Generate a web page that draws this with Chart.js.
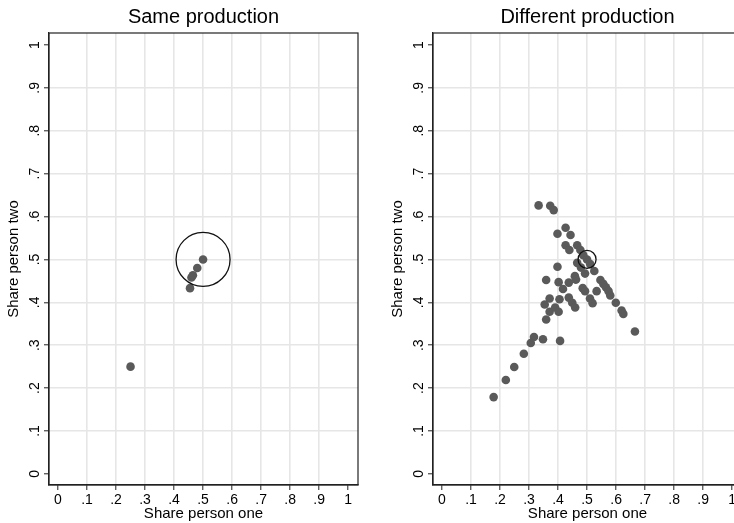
<!DOCTYPE html>
<html>
<head>
<meta charset="utf-8">
<script src="https://cdn.jsdelivr.net/npm/chart.js@4.4.1/dist/chart.umd.min.js"></script>
<style>
  html, body { margin: 0; padding: 0; background: #fff; overflow: hidden; }
  .panel { position: absolute; top: 0; width: 367px; height: 523px; }
  #panelSame { left: 0; }
  #panelDiff { left: 384px; }
</style>
</head>
<body>
<div class="panel" id="panelSame"><canvas id="chartSame"></canvas></div>
<div class="panel" id="panelDiff"><canvas id="chartDiff"></canvas></div>
<script>
/* share plots: same vs different production */

var tickValues = [0, 0.1, 0.2, 0.3, 0.4, 0.5, 0.6, 0.7, 0.8, 0.9, 1];
var tickLabels = ["0", ".1", ".2", ".3", ".4", ".5", ".6", ".7", ".8", ".9", "1"];

var sameX = [0.25, 0.455, 0.46, 0.465, 0.48, 0.5];
var sameY = [0.25, 0.433, 0.458, 0.463, 0.48, 0.5];

var diffX = [0.333, 0.373, 0.385, 0.426, 0.443, 0.398, 0.426, 0.439, 0.466, 0.477,
  0.487, 0.5, 0.511, 0.525, 0.546, 0.556, 0.565, 0.574, 0.58, 0.599,
  0.619, 0.625, 0.665, 0.398, 0.359, 0.402, 0.417, 0.437, 0.458, 0.462,
  0.466, 0.479, 0.493, 0.485, 0.493, 0.533, 0.51, 0.519, 0.371, 0.354,
  0.371, 0.359, 0.39, 0.402, 0.405, 0.437, 0.449, 0.459, 0.407, 0.348,
  0.317, 0.306, 0.282, 0.249, 0.22, 0.178];
var diffY = [0.626, 0.625, 0.615, 0.574, 0.557, 0.56, 0.533, 0.522, 0.533, 0.522,
  0.51, 0.5, 0.489, 0.473, 0.452, 0.443, 0.435, 0.426, 0.416, 0.399,
  0.381, 0.373, 0.332, 0.483, 0.452, 0.447, 0.431, 0.446, 0.461, 0.453,
  0.492, 0.481, 0.467, 0.433, 0.426, 0.426, 0.409, 0.398, 0.409, 0.395,
  0.378, 0.36, 0.388, 0.378, 0.407, 0.411, 0.399, 0.388, 0.31, 0.314,
  0.319, 0.305, 0.28, 0.249, 0.219, 0.179];

var circleX = [0.5];
var circleY = [0.5];

(function () {
  "use strict";

  var FONT = "'Liberation Sans', Arial, sans-serif";
  var ink = "#222";
  var markerColor = "#5a5a5a";

  function toPoints(xs, ys) {
    return xs.map(function (x, i) {
      return { x: x, y: ys[i] };
    });
  }

  function gridColor(ctx) {
    var v = ctx.tick ? ctx.tick.value : null;
    if (v === 0 || v === 1) return "rgba(0,0,0,0)";
    return "#e6e6e6";
  }

  function setTicks(scale) {
    scale.ticks = tickValues.map(function (v) {
      return { value: v };
    });
  }

  // plot region outline (Stata style box)
  var frame = {
    id: "frame",
    afterDraw: function (chart) {
      var a = chart.chartArea;
      var c = chart.ctx;
      c.save();
      c.strokeStyle = ink;
      c.lineWidth = 1.2;
      c.strokeRect(a.left, a.top, a.right - a.left, a.bottom - a.top);
      c.restore();
    },
  };

  function makeChart(id, title, xs, ys, ringRadius) {
    var el = document.getElementById(id);
    if (!el || typeof Chart === "undefined") return;

    new Chart(el, {
      type: "scatter",
      data: {
        datasets: [
          {
            data: toPoints(circleX, circleY),
            pointRadius: ringRadius,
            pointBackgroundColor: "rgba(0,0,0,0)",
            pointBorderColor: "#111",
            pointBorderWidth: 1.3,
            order: 0,
          },
          {
            data: toPoints(xs, ys),
            pointRadius: 4.3,
            pointBackgroundColor: markerColor,
            pointBorderColor: markerColor,
            pointBorderWidth: 0,
            order: 1,
          },
        ],
      },
      options: {
        responsive: true,
        maintainAspectRatio: false,
        animation: false,
        layout: { padding: { left: 0, right: 9, top: 0, bottom: 0 }, autoPadding: false },
        plugins: {
          legend: { display: false },
          tooltip: { enabled: false },
          title: {
            display: true,
            fullSize: false,
            text: title,
            color: "#000",
            font: { family: FONT, size: 20, weight: "normal" },
            padding: { top: 5, bottom: 4 },
          },
        },
        scales: {
          x: {
            type: "linear",
            min: -0.031,
            max: 1.034,
            afterBuildTicks: setTicks,
            afterFit: function (s) {
              s.height = 38;
            },
            grid: {
              color: gridColor,
              lineWidth: 1.6,
              tickColor: ink,
              tickLength: 5,
              tickWidth: 1,
            },
            border: { color: ink, width: 1.2 },
            ticks: {
              color: "#000",
              padding: 2,
              maxRotation: 0,
              autoSkip: false,
              font: { family: FONT, size: 14 },
              callback: function (v, i) {
                return tickLabels[i];
              },
            },
            title: {
              display: true,
              text: "Share person one",
              color: "#000",
              font: { family: FONT, size: 15 },
              padding: { top: 0, bottom: 0 },
            },
          },
          y: {
            type: "linear",
            min: -0.026,
            max: 1.028,
            afterBuildTicks: setTicks,
            afterFit: function (s) {
              s.width = 49;
            },
            grid: {
              color: gridColor,
              lineWidth: 1.6,
              tickColor: ink,
              tickLength: 5,
              tickWidth: 1,
            },
            border: { color: ink, width: 1.2 },
            ticks: {
              color: "#000",
              padding: 3,
              minRotation: 90,
              maxRotation: 90,
              crossAlign: "center",
              autoSkip: false,
              font: { family: FONT, size: 14 },
              callback: function (v, i) {
                return tickLabels[i];
              },
            },
            title: {
              display: true,
              text: "Share person two",
              color: "#000",
              font: { family: FONT, size: 15 },
              padding: { top: 5, bottom: 0 },
            },
          },
        },
      },
      plugins: [frame],
    });
  }

  makeChart("chartSame", "Same production", sameX, sameY, 27);
  makeChart("chartDiff", "Different production", diffX, diffY, 9);
})();
</script>
</body>
</html>
